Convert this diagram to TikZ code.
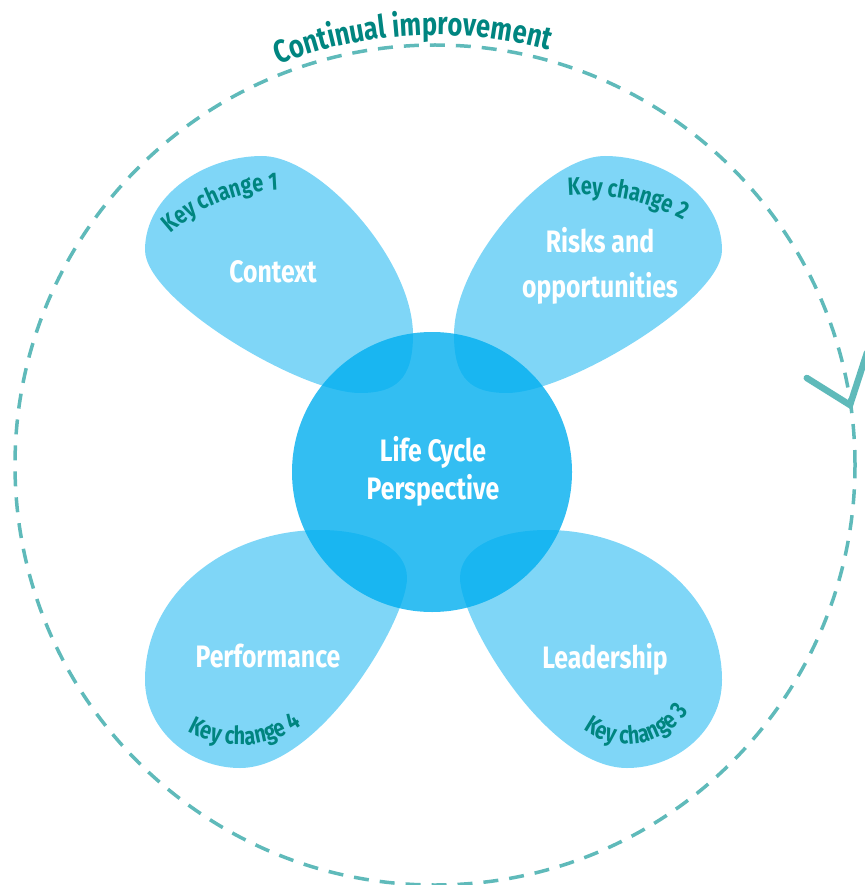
\documentclass[tikz,border=0pt]{standalone}
\usepackage{fontspec}
\setmainfont{Fira Sans}[FakeStretch=0.8]
\usetikzlibrary{calc,decorations.text}

\definecolor{petalblue}{RGB}{0,174,239}
\definecolor{ringteal}{RGB}{95,186,186}
\definecolor{keyteal}{RGB}{0,133,128}

\tikzset{
  petal/.style={fill=petalblue, fill opacity=0.5},
  hub/.style={fill=petalblue, fill opacity=0.8},
  ring/.style={draw=ringteal, line width=3.5pt, dash pattern=on 15pt off 11pt},
  petaltext/.style={text=white, align=center, font=\bfseries\fontsize{31}{38}\selectfont},
  curvetext/.style={decorate, decoration={text along path, text color=keyteal,
      text align=center, text={|\bfseries\fontsize{#1}{#1}\selectfont|}}},
}

% upper and lower petal outlines (left side, mirrored for the right side)
\newcommand{\upperpetal}{(145,-250) .. controls (145,-195) and (205,-156) .. (262,-156)
  .. controls (320,-156) and (413,-260) .. (413,-335)
  .. controls (413,-380) and (395,-393) .. (360,-393)
  .. controls (300,-393) and (145,-300) .. cycle}
\newcommand{\lowerpetal}{(320,-530) .. controls (370,-530) and (407,-548) .. (407,-578)
  .. controls (407,-620) and (320,-768) .. (240,-768)
  .. controls (190,-768) and (145,-730) .. (145,-680)
  .. controls (145,-590) and (230,-530) .. cycle}

\begin{document}
\begin{tikzpicture}[x=1pt, y=1pt]

  \useasboundingbox (0,0) rectangle (864,-885);

  % --- Define base points ---
  \coordinate (ring) at (435,-465);
  \coordinate (hub) at (432,-472);
  \coordinate (tip) at (850,-405);

  % --- Continual improvement ring ---
  \draw[ring] (ring) circle (420);
  \draw[ringteal, line width=6.5pt, line cap=round, line join=miter]
    ($(tip)+(148:51)$) -- (tip) -- ($(tip)+(72:55)$);
  \path[curvetext=32, decoration={text={|\bfseries\fontsize{32}{32}\selectfont|Continual improvement}}]
    ($(ring)+(123:430)$) arc[start angle=123, end angle=63, radius=430];

  % --- Petals ---
  \fill[petal] \upperpetal;
  \fill[petal] \lowerpetal;
  \begin{scope}[shift={(867,0)}, xscale=-1]
    \fill[petal] \upperpetal;
    \fill[petal] \lowerpetal;
  \end{scope}

  % --- Centre ---
  \fill[hub] (hub) circle (140);
  \node[petaltext] (lcp) at (433,-471) {Life Cycle\\Perspective};

  % --- Petal labels ---
  \node[petaltext] (context) at (273,-272) {Context};
  \node[petaltext, font=\bfseries\fontsize{31}{45}\selectfont] (risks) at (600,-266) {Risks and\\opportunities};
  \node[petaltext] (leader) at (605,-659) {Leadership};
  \node[petaltext] (perf) at (268,-656) {Performance};

  % --- Key changes ---
  \coordinate (k1) at (283,-357);
  \coordinate (k2) at (585,-400);
  \coordinate (k3) at (627,-670);
  \coordinate (k4) at (240,-640);
  \path[curvetext=25, decoration={text={|\bfseries\fontsize{25}{25}\selectfont|Key change 1}}]
    ($(k1)+(150:167)$) arc[start angle=150, end angle=74, radius=167];
  \path[curvetext=25, decoration={text={|\bfseries\fontsize{25}{25}\selectfont|Key change 2}}]
    ($(k2)+(110:205)$) arc[start angle=110, end angle=46, radius=205];
  \path[curvetext=25, decoration={text={|\bfseries\fontsize{25}{25}\selectfont|Key change 3}}]
    ($(k3)+(210:74)$) arc[start angle=210, end angle=350, radius=74];
  \path[curvetext=25, decoration={text={|\bfseries\fontsize{25}{25}\selectfont|Key change 4}}]
    ($(k4)+(215:105)$) arc[start angle=215, end angle=331, radius=105];

\end{tikzpicture}
\end{document}
